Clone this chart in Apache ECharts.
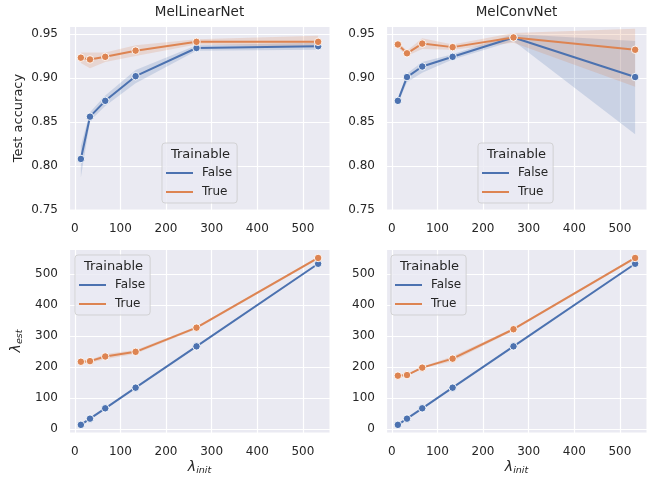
<!DOCTYPE html>
<html><head><meta charset="utf-8">
<script src="https://cdn.jsdelivr.net/npm/echarts@6/dist/echarts.min.js"></script>
<style>html,body{margin:0;padding:0;background:#fff}#c{width:657px;height:478px}</style>
</head><body><div id="c"></div>
<script>
// ---- data ----
const lambdaInit = [13.3, 33.3, 66.7, 133.3, 266.7, 533.3];
const xTicks = [0, 100, 200, 300, 400, 500];
const accTicks = [0.75, 0.80, 0.85, 0.90, 0.95];
const estTicks = [0, 100, 200, 300, 400, 500];
const panelTitles = ['MelLinearNet', 'MelConvNet'];
const legendTitle = 'Trainable';
const seriesNames = ['False', 'True'];

// MelLinearNet test accuracy
const linAccFalse   = [0.808, 0.856, 0.874, 0.902, 0.934, 0.936];
const linAccFalseLo = [0.787, 0.851, 0.868, 0.894, 0.931, 0.932];
const linAccFalseHi = [0.823, 0.861, 0.880, 0.909, 0.937, 0.940];
const linAccTrue    = [0.923, 0.921, 0.924, 0.931, 0.941, 0.941];
const linAccTrueLo  = [0.917, 0.911, 0.918, 0.925, 0.938, 0.935];
const linAccTrueHi  = [0.929, 0.929, 0.929, 0.937, 0.944, 0.948];
// MelConvNet test accuracy
const convAccFalse   = [0.874, 0.901, 0.913, 0.924, 0.946, 0.901];
const convAccFalseLo = [0.871, 0.895, 0.906, 0.921, 0.942, 0.836];
const convAccFalseHi = [0.877, 0.905, 0.918, 0.927, 0.950, 0.942];
const convAccTrue    = [0.938, 0.928, 0.939, 0.935, 0.946, 0.932];
const convAccTrueLo  = [0.935, 0.925, 0.933, 0.932, 0.940, 0.890];
const convAccTrueHi  = [0.941, 0.931, 0.945, 0.938, 0.951, 0.956];
// MelLinearNet lambda_est
const linEstFalse   = [13.3, 33.3, 66.7, 133.3, 266.7, 533.3];
const linEstTrue    = [217, 219, 234, 249, 327, 552];
const linEstTrueLo  = [212, 214, 225, 243, 323, 548];
const linEstTrueHi  = [221, 223, 242, 255, 331, 556];
// MelConvNet lambda_est
const convEstFalse  = [13.3, 33.3, 66.7, 133.3, 266.7, 533.3];
const convEstTrue   = [172, 174, 198, 227, 322, 552];
const convEstTrueLo = [169, 171, 195, 219, 318, 548];
const convEstTrueHi = [175, 177, 201, 235, 326, 556];

// ---- style ----
const BLUE = '#4C72B0', ORANGE = '#DD8452', TXT = '#262626', BG = '#EAEAF2';
const FONT = '"DejaVu Sans", sans-serif';
const grids = [
  {left: 69, top: 26, width: 261, height: 184},
  {left: 386, top: 26, width: 261, height: 184},
  {left: 69, top: 249, width: 261, height: 184},
  {left: 386, top: 249, width: 261, height: 184}
];
const isTick = (v, arr) => arr.some(t => Math.abs(t - v) < 1e-6);

const lamRich = {
  l: {fontFamily: FONT, fontSize: 14, fontStyle: 'italic', color: TXT, lineHeight: 18},
  s: {fontFamily: FONT, fontSize: 9.5, fontStyle: 'italic', color: TXT, lineHeight: 18, padding: [7, 0, 0, 0]}
};

function xAxisFor(i) {
  const a = {
    type: 'value', gridIndex: i, min: -12.7, max: 559.3, splitNumber: 5,
    axisLine: {show: false}, axisTick: {show: false},
    axisLabel: {color: TXT, fontFamily: FONT, fontSize: 12, margin: 13,
      formatter: v => isTick(v, xTicks) ? String(Math.round(v)) : ''},
    splitLine: {show: true, lineStyle: {color: '#ffffff', width: 1.2}}
  };
  if (i >= 2) {
    a.name = '{l|λ}{s|init}';
    a.nameLocation = 'middle';
    a.nameGap = 24;
    a.nameTextStyle = {rich: lamRich};
  }
  return a;
}
function yAxisFor(i) {
  const acc = i < 2;
  const a = {
    type: 'value', gridIndex: i,
    min: acc ? 0.75 : -13, max: acc ? 0.959 : 581, splitNumber: 5,
    axisLine: {show: false}, axisTick: {show: false},
    axisLabel: {color: TXT, fontFamily: FONT, fontSize: 12, margin: 11,
      formatter: v => acc ? (isTick(v, accTicks) ? v.toFixed(2) : '') : (isTick(v, estTicks) ? String(Math.round(v)) : '')},
    splitLine: {show: true, lineStyle: {color: '#ffffff', width: 1.2}}
  };
  if (i === 0) {
    a.name = 'Test accuracy';
    a.nameLocation = 'middle';
    a.nameGap = 44;
    a.nameTextStyle = {color: TXT, fontFamily: FONT, fontSize: 13};
  }
  if (i === 2) {
    a.name = '{l|λ}{s|est}';
    a.nameLocation = 'middle';
    a.nameGap = 44;
    a.nameTextStyle = {rich: lamRich};
  }
  return a;
}

function band(g, xs, lo, hi, color) {
  return {
    type: 'custom', xAxisIndex: g, yAxisIndex: g, silent: true, z: 1, clip: true,
    data: xs.map((x, i) => [x, lo[i], hi[i]]),
    encode: {x: 0, y: [1, 2]},
    renderItem: (params, api) => {
      if (params.dataIndex !== 0) return null;
      const pts = [];
      for (let i = 0; i < xs.length; i++) pts.push(api.coord([xs[i], hi[i]]));
      for (let i = xs.length - 1; i >= 0; i--) pts.push(api.coord([xs[i], lo[i]]));
      return {type: 'polygon', shape: {points: pts}, style: {fill: color, opacity: 0.2}};
    }
  };
}
function line(g, name, xs, ys, color) {
  return {
    type: 'line', name, xAxisIndex: g, yAxisIndex: g, z: 3,
    data: xs.map((x, i) => [x, ys[i]]),
    symbol: 'circle', symbolSize: 7.5, showSymbol: true,
    lineStyle: {color, width: 2},
    itemStyle: {color, borderColor: '#ffffff', borderWidth: 0.9},
    emphasis: {disabled: true}
  };
}

const series = [
  band(0, lambdaInit, linAccFalseLo, linAccFalseHi, BLUE),
  band(0, lambdaInit, linAccTrueLo, linAccTrueHi, ORANGE),
  line(0, seriesNames[0], lambdaInit, linAccFalse, BLUE),
  line(0, seriesNames[1], lambdaInit, linAccTrue, ORANGE),
  band(1, lambdaInit, convAccFalseLo, convAccFalseHi, BLUE),
  band(1, lambdaInit, convAccTrueLo, convAccTrueHi, ORANGE),
  line(1, seriesNames[0], lambdaInit, convAccFalse, BLUE),
  line(1, seriesNames[1], lambdaInit, convAccTrue, ORANGE),
  band(2, lambdaInit, linEstTrueLo, linEstTrueHi, ORANGE),
  line(2, seriesNames[0], lambdaInit, linEstFalse, BLUE),
  line(2, seriesNames[1], lambdaInit, linEstTrue, ORANGE),
  band(3, lambdaInit, convEstTrueLo, convEstTrueHi, ORANGE),
  line(3, seriesNames[0], lambdaInit, convEstFalse, BLUE),
  line(3, seriesNames[1], lambdaInit, convEstTrue, ORANGE)
];

const legendColors = [BLUE, ORANGE];
const legendPos = [[162, 143], [478, 143], [75, 255], [391, 255]];
const legends = legendPos.map(p => ({
  show: true, left: p[0], top: p[1], orient: 'vertical',
  data: seriesNames.map((n, k) => ({name: n, itemStyle: {color: legendColors[k], borderWidth: 0, opacity: 1}})),
  icon: 'rect', itemWidth: 27, itemHeight: 2, itemGap: 5,
  itemStyle: {borderWidth: 0},
  padding: [23, 5, 4, 4], selectedMode: false,
  backgroundColor: 'rgba(234,234,242,0.8)', borderColor: 'rgba(204,204,204,0.8)',
  borderWidth: 1, borderRadius: 3,
  textStyle: {fontFamily: FONT, fontSize: 12, color: TXT, lineHeight: 14, padding: [0, 0, 0, 4]}
}));

const graphics = [];
panelTitles.forEach((t, i) => {
  graphics.push({type: 'text', x: grids[i].left + grids[i].width / 2, y: 12, z: 10,
    style: {text: t, fill: TXT, font: '13.5px "DejaVu Sans"', textAlign: 'center', align: 'center',
      textVerticalAlign: 'middle', verticalAlign: 'middle'}});
});
legendPos.forEach(p => {
  graphics.push({type: 'text', x: p[0] + 38.5, y: p[1] + 11.5, z: 10,
    style: {text: legendTitle, fill: TXT, font: '13px "DejaVu Sans"', textAlign: 'center', align: 'center',
      textVerticalAlign: 'middle', verticalAlign: 'middle'}});
});

const chart = echarts.init(document.getElementById('c'), null, {renderer: 'canvas'});
chart.setOption({
  animation: false,
  backgroundColor: '#ffffff',
  grid: grids.map(g => Object.assign({show: true, backgroundColor: BG, borderColor: '#ffffff', borderWidth: 1}, g)),
  xAxis: [0, 1, 2, 3].map(xAxisFor),
  yAxis: [0, 1, 2, 3].map(yAxisFor),
  legend: legends,
  graphic: graphics,
  series
});
</script></body></html>
